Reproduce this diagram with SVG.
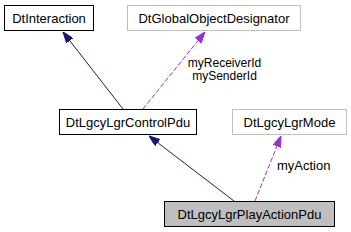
<svg xmlns="http://www.w3.org/2000/svg" width="351" height="232" viewBox="0 0 351 232">
<style>
.box{fill:#ffffff;stroke:#000000;stroke-width:1}
.gbox{fill:#ffffff;stroke:#bfbfbf;stroke-width:1}
.cur{fill:#bfbfbf;stroke:#000000;stroke-width:1}
text{font-family:"Liberation Sans",Arial,sans-serif;font-size:13px;fill:#000000}
.c{text-anchor:middle}
.lbl{font-size:12px}
.inh{stroke:#191970;stroke-width:1;fill:none}
.use{stroke:#9a32cd;stroke-width:1;fill:none;stroke-dasharray:5,2}
</style>
<defs>
<marker id="ah" viewBox="0 0 11 8" refX="11" refY="4" markerWidth="11" markerHeight="8" markerUnits="userSpaceOnUse" orient="auto">
<path d="M0,0 L11,4 L0,8 z" fill="#191970" stroke="#191970"/>
</marker>
<marker id="ap" viewBox="0 0 11 8" refX="11" refY="4" markerWidth="11" markerHeight="8" markerUnits="userSpaceOnUse" orient="auto">
<path d="M0,0 L11,4 L0,8 z" fill="#9a32cd" stroke="#9a32cd"/>
</marker>
</defs>
<rect width="351" height="232" fill="#ffffff"/>
<g id="connectors">
<line class="inh" x1="123" y1="109" x2="63" y2="32" marker-end="url(#ah)"/>
<line class="inh" x1="234" y1="201" x2="149" y2="136" marker-end="url(#ah)"/>
<line class="use" x1="143" y1="109" x2="205" y2="32" marker-end="url(#ap)"/>
<line class="use" x1="255" y1="201" x2="281" y2="136" marker-end="url(#ap)"/>
<text class="c lbl" x="224.5" y="67">myReceiverId</text>
<text class="c lbl" x="224.5" y="80">mySenderId</text>
<text x="277" y="170">myAction</text>
</g>
<g id="DtInteraction">
<rect class="box" x="4.5" y="5.5" width="89" height="25"/>
<text class="c" x="49" y="22.5">DtInteraction</text>
</g>
<g id="DtGlobalObjectDesignator">
<rect class="gbox" x="127.5" y="5.5" width="173" height="25"/>
<text class="c" x="214" y="22.5">DtGlobalObjectDesignator</text>
</g>
<g id="DtLgcyLgrControlPdu">
<rect class="box" x="59.5" y="109.5" width="137" height="25"/>
<text class="c" x="128" y="126.5">DtLgcyLgrControlPdu</text>
</g>
<g id="DtLgcyLgrMode">
<rect class="gbox" x="232.5" y="109.5" width="114" height="25"/>
<text class="c" x="289.5" y="126.5">DtLgcyLgrMode</text>
</g>
<g id="DtLgcyLgrPlayActionPdu">
<rect class="cur" x="164.5" y="201.5" width="170" height="25"/>
<text class="c" x="249.5" y="218.5">DtLgcyLgrPlayActionPdu</text>
</g>
</svg>
